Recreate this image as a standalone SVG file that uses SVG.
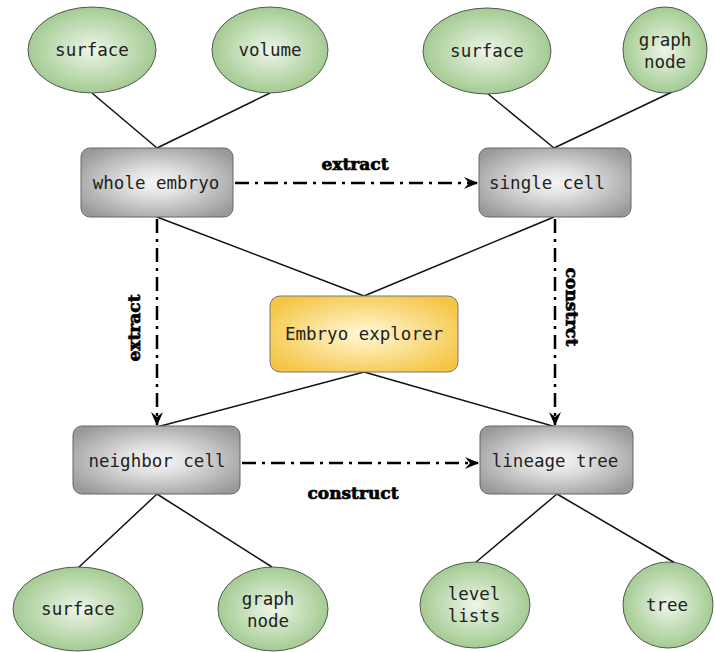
<svg xmlns="http://www.w3.org/2000/svg" width="715" height="652" viewBox="0 0 715 652">
<defs>
<radialGradient id="gGreen" cx="50%" cy="50%" r="55%">
<stop offset="0" stop-color="#eef6e8"/>
<stop offset="1" stop-color="#9cc78a"/>
</radialGradient>
<radialGradient id="gGrey" cx="50%" cy="50%" r="62%">
<stop offset="0" stop-color="#f6f6f6"/>
<stop offset="0.3" stop-color="#e2e2e2"/>
<stop offset="1" stop-color="#999"/>
</radialGradient>
<radialGradient id="gYellow" cx="50%" cy="50%" r="60%">
<stop offset="0" stop-color="#fff8d8"/>
<stop offset="1" stop-color="#f5c646"/>
</radialGradient>
<marker id="arr" viewBox="0 0 14 12" refX="13" refY="6" markerWidth="14" markerHeight="12" markerUnits="userSpaceOnUse" orient="auto">
<path d="M0,0 L14,6 L0,12 L5,6 z" fill="#000"/>
</marker>
</defs>
<style>
.ell{fill:url(#gGreen);stroke:#555;stroke-width:1}
.box{fill:url(#gGrey);stroke:#666;stroke-width:1}
.ybox{fill:url(#gYellow);stroke:#777;stroke-width:1}
.t{font-family:"DejaVu Sans Mono","Liberation Mono",monospace;font-size:17.5px;fill:#222;text-anchor:middle}
.ln{stroke:#111;stroke-width:1.5;fill:none}
.dd{stroke:#000;stroke-width:2.5;fill:none;stroke-dasharray:14 6 3 6;marker-end:url(#arr)}
.lbl{font-family:"DejaVu Serif","Liberation Serif",serif;font-weight:900;font-size:17px;fill:#000;stroke:#000;stroke-width:0.7;text-anchor:middle}
</style>
<rect width="715" height="652" fill="#fff"/>
<g id="connectors">
<line class="ln" x1="92" y1="93" x2="157" y2="148"/>
<line class="ln" x1="270" y1="93" x2="157" y2="148"/>
<line class="ln" x1="487" y1="93" x2="554" y2="148"/>
<line class="ln" x1="672" y1="92" x2="554" y2="148"/>
<line class="ln" x1="157" y1="217" x2="364" y2="296"/>
<line class="ln" x1="554" y1="217" x2="364" y2="296"/>
<line class="ln" x1="364" y1="372" x2="157" y2="427"/>
<line class="ln" x1="364" y1="372" x2="556" y2="427"/>
<line class="ln" x1="157" y1="494" x2="78" y2="568"/>
<line class="ln" x1="157" y1="494" x2="272" y2="567"/>
<line class="ln" x1="557" y1="494" x2="475" y2="563"/>
<line class="ln" x1="557" y1="494" x2="675" y2="563"/>
<path class="dd" d="M235,183 L477,183"/>
<path class="dd" d="M157,219 L157,425"/>
<path class="dd" d="M555,219 L555,425"/>
<path class="dd" d="M242,463 L478,463"/>
<text class="lbl" x="355" y="170">extract</text>
<text class="lbl" x="353" y="499">construct</text>
<text class="lbl" transform="translate(140,328) rotate(-90)">extract</text>
<text class="lbl" transform="translate(566,307) rotate(90)">constrct</text>
</g>
<g id="n-surface1"><ellipse class="ell" cx="92" cy="50" rx="64" ry="43"/><text class="t" x="92" y="56">surface</text></g>
<g id="n-volume"><ellipse class="ell" cx="270" cy="50" rx="58" ry="43"/><text class="t" x="270" y="56">volume</text></g>
<g id="n-surface2"><ellipse class="ell" cx="487" cy="51" rx="64" ry="43"/><text class="t" x="487" y="57">surface</text></g>
<g id="n-graphnode1"><ellipse class="ell" cx="665" cy="50" rx="42" ry="43"/><text class="t" x="665" y="46">graph</text><text class="t" x="665" y="68">node</text></g>
<g id="n-whole"><rect class="box" x="81" y="148" width="152" height="69" rx="9"/><text class="t" x="156" y="189">whole embryo</text></g>
<g id="n-single"><rect class="box" x="479" y="148" width="152" height="69" rx="9"/><text class="t" x="547" y="189">single cell</text></g>
<g id="n-explorer"><rect class="ybox" x="270" y="296" width="188" height="76" rx="10"/><text class="t" x="364" y="340">Embryo explorer</text></g>
<g id="n-neighbor"><rect class="box" x="73" y="426" width="167" height="68" rx="9"/><text class="t" x="157" y="467">neighbor cell</text></g>
<g id="n-lineage"><rect class="box" x="480" y="426" width="153" height="68" rx="9"/><text class="t" x="555" y="467">lineage tree</text></g>
<g id="n-surface3"><ellipse class="ell" cx="78" cy="609" rx="65" ry="42"/><text class="t" x="78" y="615">surface</text></g>
<g id="n-graphnode2"><ellipse class="ell" cx="273" cy="609" rx="55" ry="42"/><text class="t" x="268" y="605">graph</text><text class="t" x="268" y="627">node</text></g>
<g id="n-levellists"><ellipse class="ell" cx="475" cy="605" rx="55" ry="43"/><text class="t" x="474" y="600">level</text><text class="t" x="474" y="622">lists</text></g>
<g id="n-tree"><ellipse class="ell" cx="668" cy="605" rx="45" ry="43"/><text class="t" x="667" y="611">tree</text></g>
</svg>
